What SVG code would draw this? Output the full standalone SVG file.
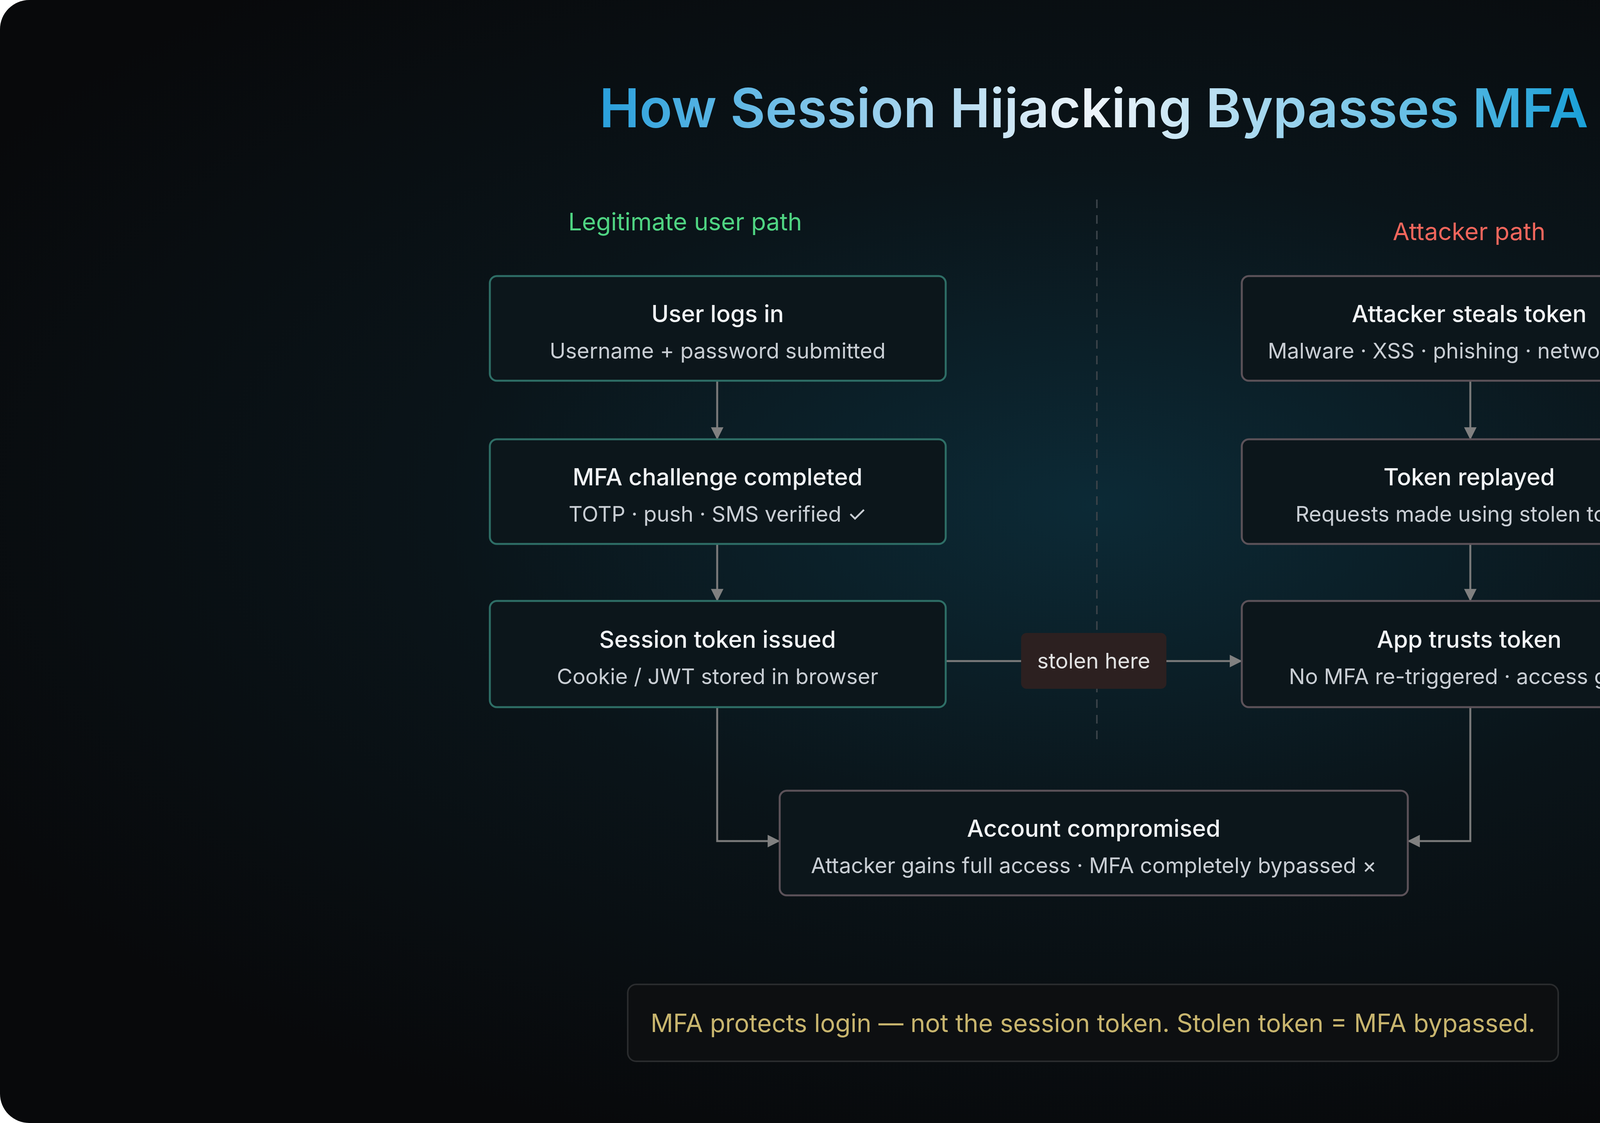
<svg xmlns="http://www.w3.org/2000/svg" width="5600" height="2876" viewBox="0 0 5600 2876">
<defs>
<radialGradient id="bgGlow" cx="0.5" cy="0.45" r="0.6">
<stop offset="0" stop-color="#0c2a36"/>
<stop offset="0.5" stop-color="#0a1419"/>
<stop offset="1" stop-color="#08090b"/>
</radialGradient>
<linearGradient id="titleGrad" x1="1540" y1="0" x2="4060" y2="0" gradientUnits="userSpaceOnUse">
<stop offset="0" stop-color="#2aa0dc"/>
<stop offset="0.5" stop-color="#eef4fa"/>
<stop offset="1" stop-color="#1aa0d8"/>
</linearGradient>
<marker id="arrB" viewBox="0 0 10 10" refX="9" refY="5" markerWidth="32" markerHeight="32" markerUnits="userSpaceOnUse" orient="auto">
<path d="M0,0 L10,5 L0,10 z" fill="#808080"/>
</marker>
</defs>
<style>
.box{fill:#0c161b;stroke-width:5}
.legit{stroke:#2e6e66}
.att{stroke:#5c5259}
.t{font-family:Inter,"Liberation Sans",sans-serif;fill:#f2f4f6;font-size:60px;font-weight:500;text-anchor:middle}
.s{font-family:Inter,"Liberation Sans",sans-serif;fill:#c9ced4;font-size:55px;text-anchor:middle}
.c{fill:none;stroke:#7a7a7a;stroke-width:5}
</style>
<rect width="5600" height="2876" fill="#ffffff"/>
<rect width="5600" height="2876" rx="75" fill="url(#bgGlow)"/>
<text x="2800" y="326" font-family="Inter,'Liberation Sans',sans-serif" font-size="138" font-weight="600" text-anchor="middle" fill="url(#titleGrad)">How Session Hijacking Bypasses MFA</text>
<line x1="2808" y1="511" x2="2808" y2="1911" stroke="#3a4248" stroke-width="4" stroke-dasharray="22 18"/>
<text x="1754" y="590" font-family="Inter,'Liberation Sans',sans-serif" font-size="62" fill="#4fd482" text-anchor="middle">Legitimate user path</text>
<text x="3761" y="615" font-family="Inter,'Liberation Sans',sans-serif" font-size="62" fill="#f2665c" text-anchor="middle">Attacker path</text>
<g id="connectors">
<line class="c" x1="1836" y1="975" x2="1836" y2="1123" marker-end="url(#arrB)"/>
<line class="c" x1="1836" y1="1393" x2="1836" y2="1537" marker-end="url(#arrB)"/>
<line class="c" x1="3764" y1="975" x2="3764" y2="1123" marker-end="url(#arrB)"/>
<line class="c" x1="3764" y1="1393" x2="3764" y2="1537" marker-end="url(#arrB)"/>
<line class="c" x1="2421" y1="1693" x2="2614" y2="1693"/>
<line class="c" x1="2986" y1="1693" x2="3177" y2="1693" marker-end="url(#arrB)"/>
<polyline class="c" points="1836,1811 1836,2154 1994,2154" marker-end="url(#arrB)"/>
<polyline class="c" points="3764,1811 3764,2154 3606,2154" marker-end="url(#arrB)"/>
</g>
<g id="n1"><rect class="box legit" x="1254" y="707" width="1167" height="268" rx="18"/><text class="t" x="1837" y="825">User logs in</text><text class="s" x="1837" y="918">Username + password submitted</text></g>
<g id="n2"><rect class="box legit" x="1254" y="1125" width="1167" height="268" rx="18"/><text class="t" x="1837" y="1243">MFA challenge completed</text><text class="s" x="1837" y="1336">TOTP · push · SMS verified ✓</text></g>
<g id="n3"><rect class="box legit" x="1254" y="1539" width="1167" height="272" rx="18"/><text class="t" x="1837" y="1659">Session token issued</text><text class="s" x="1837" y="1752">Cookie / JWT stored in browser</text></g>
<g id="n4"><rect class="box att" x="3179" y="707" width="1165" height="268" rx="18"/><text class="t" x="3761" y="825">Attacker steals token</text><text class="s" x="3761" y="918">Malware · XSS · phishing · network sniff</text></g>
<g id="n5"><rect class="box att" x="3179" y="1125" width="1165" height="268" rx="18"/><text class="t" x="3761" y="1243">Token replayed</text><text class="s" x="3761" y="1336">Requests made using stolen token</text></g>
<g id="n6"><rect class="box att" x="3179" y="1539" width="1165" height="272" rx="18"/><text class="t" x="3761" y="1659">App trusts token</text><text class="s" x="3761" y="1752">No MFA re-triggered · access given</text></g>
<g id="stolen"><rect x="2614" y="1621" width="372" height="143" rx="14" fill="#2c2020"/><text class="s" x="2800" y="1712" style="fill:#e2e2e2">stolen here</text></g>
<g id="n7"><rect class="box att" x="1996" y="2025" width="1608" height="268" rx="18"/><text class="t" x="2800" y="2143">Account compromised</text><text class="s" x="2800" y="2236">Attacker gains full access · MFA completely bypassed ×</text></g>
<g id="footer"><rect x="1607" y="2521" width="2382" height="197" rx="22" fill="#0d0f11" stroke="#2a2c2e" stroke-width="4"/><text x="2798" y="2643" font-family="Inter,'Liberation Sans',sans-serif" font-size="64" fill="#c8b56e" text-anchor="middle">MFA protects login — not the session token. Stolen token = MFA bypassed.</text></g>
</svg>
